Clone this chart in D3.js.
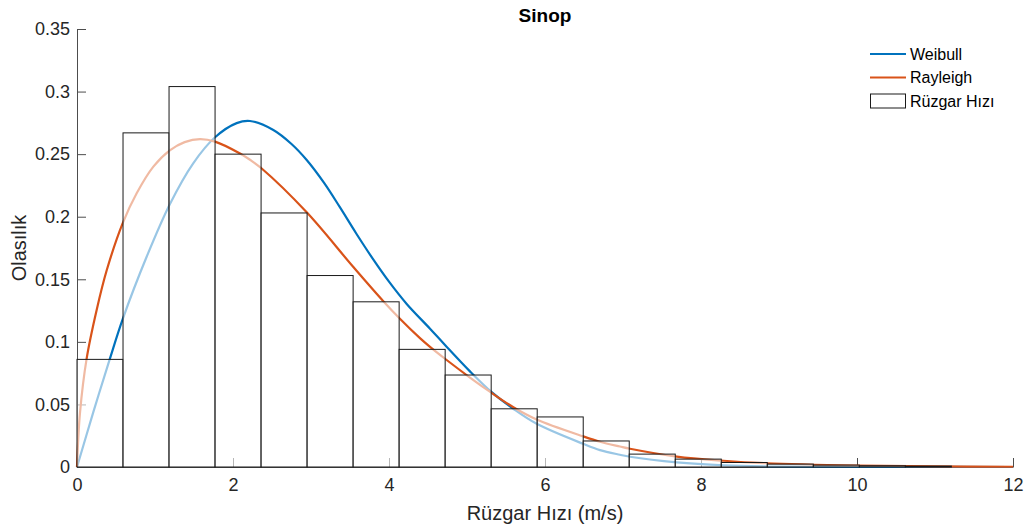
<!DOCTYPE html>
<html>
<head>
<meta charset="utf-8">
<script src="https://cdn.jsdelivr.net/npm/d3@7"></script>
<style>
  html, body { margin: 0; padding: 0; background: #fff; }
  svg { display: block; font-family: "Liberation Sans", Arial, Helvetica, sans-serif; }
</style>
</head>
<body>
<svg id="chart" width="1027" height="531"></svg>
<script>
// Wind-speed histogram (probability density per bin) for Sinop
const binWidth = 0.59;
const binDensity = [
  0.086, 0.267, 0.304, 0.250, 0.203, 0.153, 0.132, 0.094, 0.0735, 0.0465,
  0.040, 0.0208, 0.0103, 0.0063, 0.0036, 0.0023, 0.0015, 0.0010, 0.0007
];

// Fitted distribution curves: [speed (m/s), density]
const weibullPts = [
  [0, 0], [0.21, 0.044], [0.423, 0.0868], [0.585, 0.118], [0.893, 0.168],
  [1.19, 0.210], [1.49, 0.2427], [1.77, 0.2635], [2.047, 0.2748], [2.218, 0.2765],
  [2.517, 0.2693], [2.75, 0.2581], [2.945, 0.2453], [3.17, 0.2268], [3.37, 0.2076],
  [3.58, 0.1866], [3.80, 0.1657], [4.0, 0.1481], [4.227, 0.1303], [4.526, 0.1105],
  [4.718, 0.0975], [5.038, 0.0764], [5.316, 0.0598], [5.594, 0.0465], [5.893, 0.0345],
  [6.49, 0.0185], [6.705, 0.0135], [6.96, 0.0098], [7.09, 0.0082], [7.69, 0.0037],
  [8.29, 0.0014], [9.0, 0.0004], [10.0, 0.0001], [12.0, 0]
];
const rayleighPts = [
  [0, 0], [0.038, 0.043], [0.124, 0.0868], [0.252, 0.1255], [0.38, 0.157],
  [0.585, 0.1947], [0.765, 0.2187], [0.979, 0.240], [1.19, 0.253], [1.38, 0.2596],
  [1.577, 0.262], [1.77, 0.2600], [2.09, 0.2505], [2.218, 0.2455], [2.368, 0.2385],
  [2.945, 0.2035], [3.54, 0.1600], [3.927, 0.1325], [4.14, 0.1185], [4.397, 0.1030],
  [4.526, 0.0960], [4.718, 0.0865], [5.038, 0.0715], [5.316, 0.0592], [5.594, 0.0478],
  [5.893, 0.0380], [6.49, 0.0245], [6.705, 0.0202], [6.96, 0.0164], [7.09, 0.0146],
  [7.69, 0.0083], [8.29, 0.0050], [8.84, 0.0030], [10.0, 0.0012], [11.0, 0.0005],
  [12.0, 0.0002]
];

const xTicks = [0, 2, 4, 6, 8, 10, 12];
const xTickLabels = ["0", "2", "4", "6", "8", "10", "12"];
const yTicks = [0, 0.05, 0.1, 0.15, 0.2, 0.25, 0.3, 0.35];
const yTickLabels = ["0", "0.05", "0.1", "0.15", "0.2", "0.25", "0.3", "0.35"];

const seriesNames = ["Weibull", "Rayleigh", "Rüzgar Hızı"];
const colors = { weibull: "#0072BD", rayleigh: "#D95319" };

const svg = d3.select("#chart");
const plot = { left: 77, right: 1013, top: 29, bottom: 467 };

const x = d3.scaleLinear().domain([0, 12]).range([plot.left, plot.right]);
const y = d3.scaleLinear().domain([0, 0.35]).range([plot.bottom, plot.top]);

const axisColor = "#4d4d4d";
const textColor = "#262626";

// Axes sit underneath the data, the way the histogram overlays them
const xAxis = svg.append("g")
  .attr("transform", `translate(0,${plot.bottom})`)
  .call(d3.axisBottom(x).tickValues(xTicks)
    .tickFormat((d, i) => xTickLabels[i]).tickSizeInner(-9).tickSizeOuter(0).tickPadding(11));
const yAxis = svg.append("g")
  .attr("transform", `translate(${plot.left},0)`)
  .call(d3.axisLeft(y).tickValues(yTicks)
    .tickFormat((d, i) => yTickLabels[i]).tickSizeInner(-9).tickSizeOuter(0).tickPadding(7));

[xAxis, yAxis].forEach(g => {
  g.select(".domain").attr("stroke", axisColor);
  g.selectAll(".tick line").attr("stroke", axisColor);
  g.selectAll(".tick text").attr("fill", textColor).style("font-size", "18px");
});
xAxis.selectAll(".tick text").attr("dy", "0.71em");

// Distribution curves
const line = d3.line()
  .x(d => x(d[0]))
  .y(d => y(d[1]))
  .curve(d3.curveCatmullRom.alpha(0.5));

svg.append("path").datum(weibullPts)
  .attr("d", line).attr("fill", "none")
  .attr("stroke", colors.weibull).attr("stroke-width", 2.2);
svg.append("path").datum(rayleighPts)
  .attr("d", line).attr("fill", "none")
  .attr("stroke", colors.rayleigh).attr("stroke-width", 2.2);

// Histogram bars, semi-transparent white faces
svg.append("g").selectAll("rect")
  .data(binDensity)
  .join("rect")
  .attr("x", (d, i) => x(i * binWidth))
  .attr("width", (d, i) => x((i + 1) * binWidth) - x(i * binWidth))
  .attr("y", d => y(d))
  .attr("height", d => y(0) - y(d))
  .attr("fill", "#fff").attr("fill-opacity", 0.6)
  .attr("stroke", "#1a1a1a").attr("stroke-width", 1);

// Title and axis labels
svg.append("text")
  .attr("x", (plot.left + plot.right) / 2).attr("y", 22)
  .attr("text-anchor", "middle").attr("fill", "#000")
  .style("font-size", "19px").style("font-weight", "bold")
  .text("Sinop");

svg.append("text")
  .attr("x", (plot.left + plot.right) / 2).attr("y", 520)
  .attr("text-anchor", "middle").attr("fill", textColor)
  .style("font-size", "20px")
  .text("Rüzgar Hızı (m/s)");

svg.append("text")
  .attr("transform", `translate(26,${(plot.top + plot.bottom) / 2}) rotate(-90)`)
  .attr("text-anchor", "middle").attr("fill", textColor)
  .style("font-size", "20px")
  .text("Olasılık");

// Legend
const legend = svg.append("g").attr("transform", "translate(870,0)");
const legendRows = [
  { name: seriesNames[0], type: "line", color: colors.weibull, cy: 54 },
  { name: seriesNames[1], type: "line", color: colors.rayleigh, cy: 77.5 },
  { name: seriesNames[2], type: "box", cy: 101 }
];
legendRows.forEach(r => {
  if (r.type === "line") {
    legend.append("line")
      .attr("x1", 0).attr("x2", 36).attr("y1", r.cy).attr("y2", r.cy)
      .attr("stroke", r.color).attr("stroke-width", 2.2);
  } else {
    legend.append("rect")
      .attr("x", 0.5).attr("y", r.cy - 7).attr("width", 35).attr("height", 14)
      .attr("fill", "#fff").attr("stroke", "#1a1a1a").attr("stroke-width", 1);
  }
  legend.append("text")
    .attr("x", 40).attr("y", r.cy).attr("dy", "0.35em")
    .attr("fill", "#000").style("font-size", "16px")
    .text(r.name);
});
</script>
</body>
</html>
